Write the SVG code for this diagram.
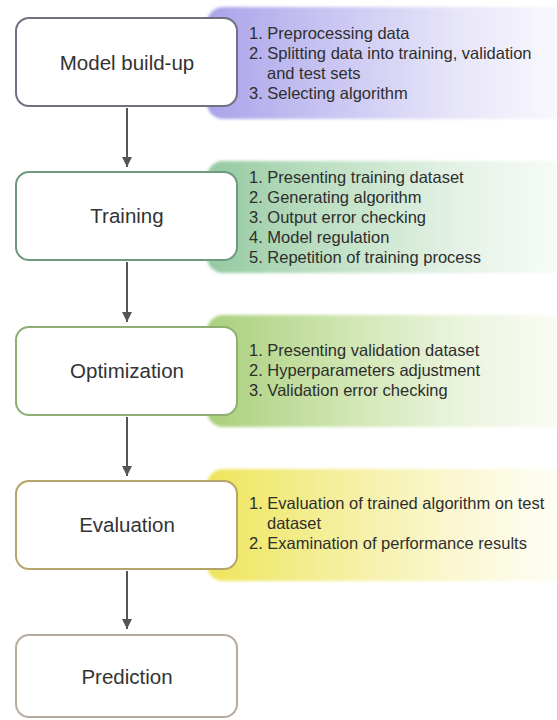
<svg xmlns="http://www.w3.org/2000/svg" width="557" height="720" viewBox="0 0 557 720">
<style>
.box{fill:#ffffff;stroke-width:2}
.lbl{font-family:"Liberation Sans",Arial,sans-serif;font-size:20.5px;fill:#333333;text-anchor:middle}
.itm{font-family:"Liberation Sans",Arial,sans-serif;font-size:16.5px;fill:#2e2e2e}
.con{stroke:#555555;stroke-width:2;fill:none}
</style>
<defs>
<linearGradient id="gPurple" x1="0" y1="0" x2="1" y2="0">
<stop offset="0" stop-color="#aaa3ea"/><stop offset="0.35" stop-color="#c9c5f2"/><stop offset="0.7" stop-color="#e6e4f8"/><stop offset="1" stop-color="#f8f8fd"/>
</linearGradient>
<linearGradient id="gGreen" x1="0" y1="0" x2="1" y2="0">
<stop offset="0" stop-color="#94c9a0"/><stop offset="0.35" stop-color="#bfe0c4"/><stop offset="0.7" stop-color="#e3f1e5"/><stop offset="1" stop-color="#f7fbf7"/>
</linearGradient>
<linearGradient id="gOlive" x1="0" y1="0" x2="1" y2="0">
<stop offset="0" stop-color="#a9cf7c"/><stop offset="0.35" stop-color="#cbe3ab"/><stop offset="0.7" stop-color="#e9f3da"/><stop offset="1" stop-color="#fafcf5"/>
</linearGradient>
<linearGradient id="gYellow" x1="0" y1="0" x2="1" y2="0">
<stop offset="0" stop-color="#eee55a"/><stop offset="0.35" stop-color="#f4ee9a"/><stop offset="0.7" stop-color="#faf7d0"/><stop offset="1" stop-color="#fefdf4"/>
</linearGradient>
<filter id="soft" x="-5%" y="-5%" width="110%" height="110%"><feGaussianBlur stdDeviation="1.5"/></filter>
<marker id="arr" viewBox="0 0 10 10" refX="10" refY="5" markerWidth="5" markerHeight="5" orient="auto" markerUnits="strokeWidth">
<path d="M0,0 L10,5 L0,10 Z" fill="#555555"/>
</marker>
</defs>
<rect width="557" height="720" fill="#ffffff"/>

<g id="panels">
<path d="M557,7 H223 A16,16 0 0 0 207,23 V103 A16,16 0 0 0 223,119 H557 Z" fill="url(#gPurple)" filter="url(#soft)"/>
<path d="M557,161 H223 A16,16 0 0 0 207,177 V257 A16,16 0 0 0 223,273 H557 Z" fill="url(#gGreen)" filter="url(#soft)"/>
<path d="M557,315 H223 A16,16 0 0 0 207,331 V411 A16,16 0 0 0 223,427 H557 Z" fill="url(#gOlive)" filter="url(#soft)"/>
<path d="M557,469 H223 A16,16 0 0 0 207,485 V565 A16,16 0 0 0 223,581 H557 Z" fill="url(#gYellow)" filter="url(#soft)"/>
</g>

<g id="connectors">
<line class="con" x1="127" y1="108" x2="127" y2="167" marker-end="url(#arr)"/>
<line class="con" x1="127" y1="262" x2="127" y2="322" marker-end="url(#arr)"/>
<line class="con" x1="127" y1="417" x2="127" y2="476" marker-end="url(#arr)"/>
<line class="con" x1="127" y1="571" x2="127" y2="629" marker-end="url(#arr)"/>
</g>

<g id="model-buildup">
<rect class="box" x="16" y="18" width="221" height="88" rx="13" stroke="#707080"/>
<text class="lbl" x="127" y="70">Model build-up</text>
<text class="itm" x="249" y="39">1. Preprocessing data</text>
<text class="itm" x="249" y="59">2. Splitting data into training, validation</text>
<text class="itm" x="267" y="79">and test sets</text>
<text class="itm" x="249" y="99">3. Selecting algorithm</text>
</g>

<g id="training">
<rect class="box" x="16" y="172" width="221" height="88" rx="13" stroke="#6f9a80"/>
<text class="lbl" x="127" y="223">Training</text>
<text class="itm" x="249" y="183">1. Presenting training dataset</text>
<text class="itm" x="249" y="203">2. Generating algorithm</text>
<text class="itm" x="249" y="223">3. Output error checking</text>
<text class="itm" x="249" y="243">4. Model regulation</text>
<text class="itm" x="249" y="263">5. Repetition of training process</text>
</g>

<g id="optimization">
<rect class="box" x="16" y="327" width="221" height="88" rx="13" stroke="#8fae72"/>
<text class="lbl" x="127" y="378">Optimization</text>
<text class="itm" x="249" y="356">1. Presenting validation dataset</text>
<text class="itm" x="249" y="376">2. Hyperparameters adjustment</text>
<text class="itm" x="249" y="396">3. Validation error checking</text>
</g>

<g id="evaluation">
<rect class="box" x="16" y="481" width="221" height="88" rx="13" stroke="#b5a56a"/>
<text class="lbl" x="127" y="532">Evaluation</text>
<text class="itm" x="249" y="509">1. Evaluation of trained algorithm on test</text>
<text class="itm" x="267" y="529">dataset</text>
<text class="itm" x="249" y="549">2. Examination of performance results</text>
</g>

<g id="prediction">
<rect class="box" x="16" y="635" width="221" height="82" rx="13" stroke="#b6ab9d"/>
<text class="lbl" x="127" y="684">Prediction</text>
</g>
</svg>
